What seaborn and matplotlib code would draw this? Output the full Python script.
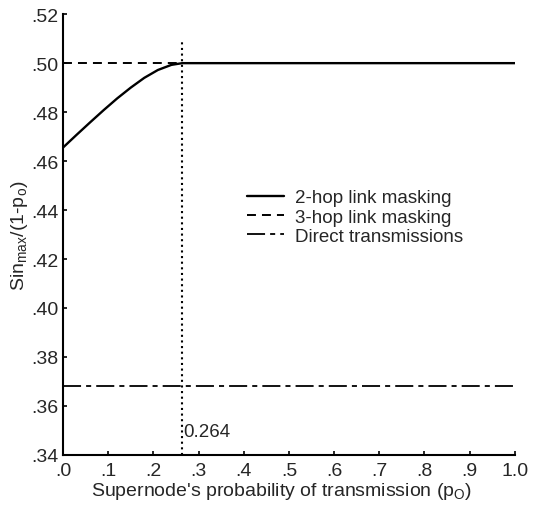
import matplotlib
matplotlib.use("Agg")
import matplotlib.pyplot as plt
import seaborn as sns
import pandas as pd

# Normalised maximum throughput vs. supernode transmission probability
p_two_hop = [0.0, 0.03, 0.06, 0.09, 0.12, 0.15, 0.18, 0.21, 0.24, 0.264, 1.0]
s_two_hop = [0.4655, 0.4707, 0.4758, 0.4808, 0.4856, 0.4900, 0.4940, 0.4972, 0.4993, 0.5000, 0.5000]

p_three_hop = [0.0, 1.0]
s_three_hop = [0.500, 0.500]

p_direct = [0.0, 1.0]
s_direct = [0.368, 0.368]

p_threshold = 0.264

x_ticks = [0.0, 0.1, 0.2, 0.3, 0.4, 0.5, 0.6, 0.7, 0.8, 0.9, 1.0]
x_tick_labels = [".0", ".1", ".2", ".3", ".4", ".5", ".6", ".7", ".8", ".9", "1.0"]
y_ticks = [0.34, 0.36, 0.38, 0.40, 0.42, 0.44, 0.46, 0.48, 0.50, 0.52]
y_tick_labels = [".34", ".36", ".38", ".40", ".42", ".44", ".46", ".48", ".50", ".52"]

sns.set_theme(style="ticks")
plt.rcParams["font.family"] = ["Liberation Sans", "DejaVu Sans"]

fig, ax = plt.subplots(figsize=(5.38, 5.06), dpi=100)
fig.subplots_adjust(left=0.117, right=0.957, bottom=0.099, top=0.97)

df2 = pd.DataFrame({"p": p_two_hop, "s": s_two_hop})
df3 = pd.DataFrame({"p": p_three_hop, "s": s_three_hop})
dfd = pd.DataFrame({"p": p_direct, "s": s_direct})

sns.lineplot(data=df3, x="p", y="s", ax=ax, color="black", lw=1.4,
             linestyle=(0, (4.6, 3.1)), label="3-hop link masking", zorder=2)
sns.lineplot(data=df2, x="p", y="s", ax=ax, color="black", lw=1.7,
             label="2-hop link masking", zorder=3)
sns.lineplot(data=dfd, x="p", y="s", ax=ax, color="black", lw=1.3,
             linestyle=(0, (10, 2.8, 2.8, 2.8)), label="Direct transmissions", zorder=2)

ax.plot([p_threshold, p_threshold], [0.34, 0.5095], color="black",
        lw=1.5, linestyle=(0, (1, 1.7)), zorder=4)
ax.text(p_threshold + 0.003, 0.3462, "0.264", fontsize=13.5, ha="left", va="bottom")

ax.set_xlim(0.0, 1.0)
ax.set_ylim(0.34, 0.52)
ax.set_xticks(x_ticks)
ax.set_xticklabels(x_tick_labels, fontsize=14)
ax.set_yticks(y_ticks)
ax.set_yticklabels(y_tick_labels, fontsize=14)
ax.tick_params(direction="in", length=3, width=1.2, color="black", pad=3)
ax.tick_params(axis="x", pad=5)

for side in ("top", "right"):
    ax.spines[side].set_visible(False)
for side in ("left", "bottom"):
    ax.spines[side].set_linewidth(1.5)
    ax.spines[side].set_color("black")

ax.set_xlabel("Supernode's probability of transmission (p$_\\mathregular{O}$)",
              fontsize=14, labelpad=0)
ax.xaxis.set_label_coords(0.483, -0.058)
ax.set_ylabel("Sin$_\\mathregular{max}$/(1-p$_\\mathregular{o}$)", fontsize=14, labelpad=1)

handles, labels = ax.get_legend_handles_labels()
order = [labels.index(l) for l in ["2-hop link masking", "3-hop link masking", "Direct transmissions"]]
ax.legend([handles[i] for i in order], [labels[i] for i in order],
          frameon=False, fontsize=13.5, loc="upper left",
          bbox_to_anchor=(0.39, 0.62), handlelength=2.0, handletextpad=0.55,
          labelspacing=0.12, borderaxespad=0)

fig.savefig("out.png", dpi=100, facecolor="white")
